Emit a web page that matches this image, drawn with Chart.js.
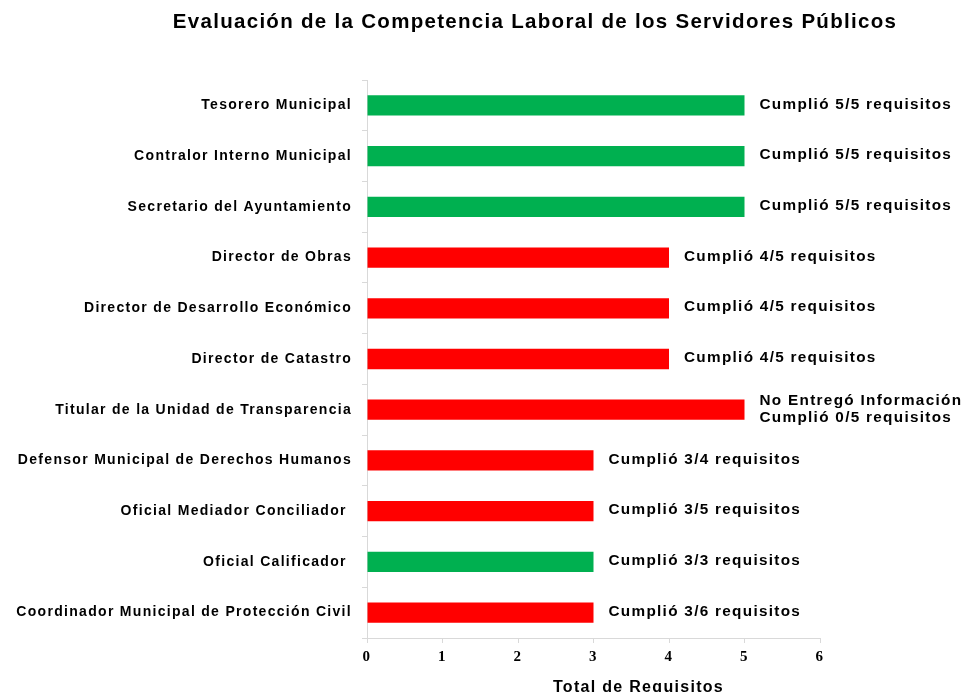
<!DOCTYPE html>
<html>
<head>
<meta charset="utf-8">
<title>Evaluación de la Competencia Laboral</title>
<script src="https://cdn.jsdelivr.net/npm/chart.js@4/dist/chart.umd.min.js"></script>
<style>
    html, body { margin: 0; padding: 0; background: #fff; }
    #wrap { width: 969px; height: 692px; }
</style>
</head>
<body>
<div id="wrap"><canvas id="chart"></canvas></div>
<script>
// Datos de la gráfica
var titulo = 'Evaluación de la Competencia Laboral de los Servidores Públicos';
var tituloEje = 'Total de Requisitos';
var puestos = [
    'Tesorero Municipal',
    'Contralor Interno Municipal',
    'Secretario del Ayuntamiento',
    'Director de Obras',
    'Director de Desarrollo Económico',
    'Director de Catastro',
    'Titular de la Unidad de Transparencia',
    'Defensor Municipal de Derechos Humanos',
    'Oficial Mediador Conciliador ',
    'Oficial Calificador ',
    'Coordinador Municipal de Protección Civil'
];
var totalRequisitos = [5, 5, 5, 4, 4, 4, 5, 3, 3, 3, 3];
var cumplioTodo = [true, true, true, false, false, false, false, false, false, true, false];
var etiquetas = [
    'Cumplió 5/5 requisitos',
    'Cumplió 5/5 requisitos',
    'Cumplió 5/5 requisitos',
    'Cumplió 4/5 requisitos',
    'Cumplió 4/5 requisitos',
    'Cumplió 4/5 requisitos',
    ['No Entregó Información', 'Cumplió 0/5 requisitos'],
    'Cumplió 3/4 requisitos',
    'Cumplió 3/5 requisitos',
    'Cumplió 3/3 requisitos',
    'Cumplió 3/6 requisitos'
];
var ticksX = [0, 1, 2, 3, 4, 5, 6];

var VERDE = '#00b050';
var ROJO = '#ff0000';
var EJE = '#d9d9d9';
var SANS = '"Liberation Sans", Arial, sans-serif';

// the reference text is a bit stretched, so add some letter spacing
var spacingPlugin = {
    id: 'spacing',
    beforeLayout: function(chart) { chart.ctx.letterSpacing = '1.3px'; },
    beforeDraw: function(chart) { chart.ctx.letterSpacing = '1.3px'; }
};

// labels next to the bars + the two titles (they are not centred on the plot in the original)
var barLabels = {
    id: 'barLabels',
    afterDatasetsDraw: function(chart) {
        var ctx = chart.ctx;
        var meta = chart.getDatasetMeta(0);
        var area = chart.chartArea;
        ctx.save();
        ctx.font = 'bold 15.3px ' + SANS;
        ctx.fillStyle = '#000';
        ctx.textAlign = 'left';
        ctx.textBaseline = 'middle';
        meta.data.forEach(function(bar, i) {
            var txt = etiquetas[i];
            var x = bar.x + 15;
            if (Array.isArray(txt)) {
                ctx.fillText(txt[0], x, bar.y - 9);
                ctx.fillText(txt[1], x, bar.y + 8);
            } else {
                ctx.fillText(txt, x, bar.y - 1);
            }
        });

        ctx.textAlign = 'center';
        ctx.font = 'bold 20.5px ' + SANS;
        ctx.fillText(titulo, 535, 22);

        ctx.textBaseline = 'alphabetic';
        ctx.font = 'bold 16px ' + SANS;
        ctx.fillText(tituloEje, (area.left + area.right) / 2 + 45, 692);
        ctx.restore();
    }
};

new Chart(document.getElementById('chart'), {
    type: 'bar',
    data: {
        labels: puestos,
        datasets: [{
            label: tituloEje,
            data: totalRequisitos,
            backgroundColor: cumplioTodo.map(function(c) { return c ? VERDE : ROJO; }),
            borderWidth: 0,
            categoryPercentage: 1,
            barPercentage: 0.4
        }]
    },
    options: {
        indexAxis: 'y',
        responsive: true,
        maintainAspectRatio: false,
        animation: false,
        layout: {
            padding: { left: 0, right: 149, top: 80, bottom: 0 }
        },
        plugins: {
            legend: { display: false },
            tooltip: { enabled: false },
            title: { display: false }
        },
        scales: {
            x: {
                min: 0,
                max: 6,
                afterBuildTicks: function(scale) {
                    scale.ticks = ticksX.map(function(v) { return { value: v }; });
                },
                afterFit: function(scale) { scale.height = 54; },
                grid: {
                    drawOnChartArea: false,
                    drawTicks: true,
                    tickLength: 5,
                    color: EJE
                },
                border: { color: EJE, width: 1 },
                ticks: {
                    padding: 5,
                    color: '#000',
                    font: { family: '"Liberation Serif", "Times New Roman", serif', size: 15, weight: 'bold' }
                }
            },
            y: {
                afterFit: function(scale) { scale.width = 367; },
                grid: {
                    offset: true,
                    drawOnChartArea: false,
                    drawTicks: true,
                    tickLength: 5,
                    color: EJE
                },
                border: { color: EJE, width: 1 },
                ticks: {
                    padding: 10,
                    color: '#000',
                    font: { family: SANS, size: 14, weight: 'bold' }
                }
            }
        }
    },
    plugins: [spacingPlugin, barLabels]
});
</script>
</body>
</html>
